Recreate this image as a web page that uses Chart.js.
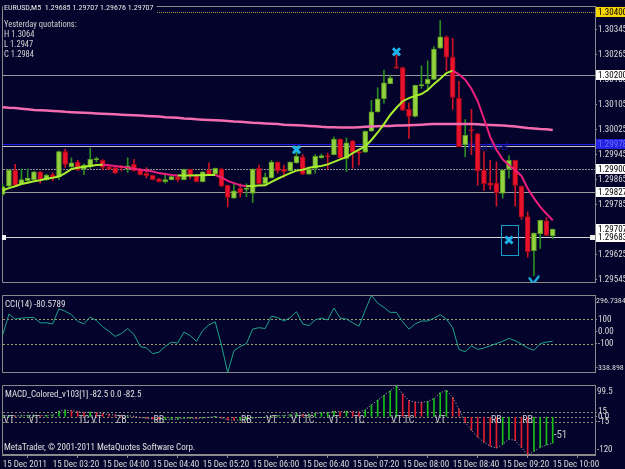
<!DOCTYPE html>
<html>
<head>
<meta charset="utf-8">
<title>EURUSD,M5</title>
<script src="https://cdn.jsdelivr.net/npm/chart.js@4.4.1/dist/chart.umd.min.js"></script>
<style>
html,body{margin:0;padding:0;background:#04032b;overflow:hidden;}
#wrap{position:relative;width:625px;height:469px;background:#04032b;}
canvas{position:absolute;left:0;display:block;}
</style>
</head>
<body>
<div id="wrap">
<canvas id="cMain" width="625" height="289" style="top:0px"></canvas>
<canvas id="cCci" width="625" height="90" style="top:289px"></canvas>
<canvas id="cMacd" width="625" height="90" style="top:379px"></canvas>
</div>
<script>
// ================= DATA =================
const times = ("02:40 02:45 02:50 02:55 " +
 "03:00 03:05 03:10 03:15 03:20 03:25 03:30 03:35 03:40 03:45 03:50 03:55 " +
 "04:00 04:05 04:10 04:15 04:20 04:25 04:30 04:35 04:40 04:45 04:50 04:55 " +
 "05:00 05:05 05:10 05:15 05:20 05:25 05:30 05:35 05:40 05:45 05:50 05:55 " +
 "06:00 06:05 06:10 06:15 06:20 06:25 06:30 06:35 06:40 06:45 06:50 06:55 " +
 "07:00 07:05 07:10 07:15 07:20 07:25 07:30 07:35 07:40 07:45 07:50 07:55 " +
 "08:00 08:05 08:10 08:15 08:20 08:25 08:30 08:35 08:40 08:45 08:50 08:55 " +
 "09:00 09:05 09:10 09:15 09:20 09:25 09:30 09:35 09:40 09:45 09:50 09:55 " +
 "10:00").split(" ");

const opens = [1.29818,1.29844,1.29895,1.29852,1.29862,1.29865,1.29890,1.29865,1.29881,1.29875,
1.29955,1.29906,1.29921,1.29899,1.29907,1.29929,1.29927,1.29906,1.29904,1.29904,
1.29899,1.29914,1.29899,1.29885,1.29879,1.29868,1.29859,1.29865,1.29875,1.29865,
1.29898,1.29878,1.29859,1.29896,1.29883,1.29899,1.29847,1.29806,1.29837,1.29834,
1.29821,1.29901,1.29852,1.29871,1.29921,1.29899,1.29893,1.29919,1.29938,1.29883,
1.29901,1.29935,1.29940,1.29945,1.29995,1.29933,1.29989,1.29955,1.29953,1.30020,
1.30082,1.30124,1.30172,1.30226,1.30224,1.30090,1.30067,1.30166,1.30172,1.30186,
1.30286,1.30322,1.30257,1.30126,1.29976,1.30023,1.30012,1.29896,1.29855,1.29854,
1.29821,1.29899,1.29927,1.29844,1.29747,1.29638,1.29692,1.29733,1.29685];

const highs = [1.29852,1.29897,1.29914,1.29899,1.29899,1.29892,1.29891,1.29882,1.29888,1.29957,
1.29963,1.29935,1.29927,1.29916,1.29966,1.29937,1.29929,1.29912,1.29906,1.29911,
1.29935,1.29930,1.29901,1.29904,1.29880,1.29869,1.29880,1.29876,1.29876,1.29899,
1.29899,1.29879,1.29891,1.29919,1.29902,1.29902,1.29848,1.29852,1.29852,1.29852,
1.29900,1.29912,1.29886,1.29927,1.29922,1.29912,1.29922,1.29970,1.29945,1.29900,
1.29945,1.29947,1.29950,1.30002,1.29996,1.29999,1.29990,1.29958,1.30021,1.30119,
1.30159,1.30216,1.30198,1.30273,1.30225,1.30110,1.30168,1.30229,1.30245,1.30291,
1.30374,1.30325,1.30317,1.30180,1.30057,1.30090,1.30013,1.29955,1.29927,1.29922,
1.29897,1.29942,1.29928,1.29845,1.29762,1.29695,1.29736,1.29744,1.29707];

const lows = [1.29815,1.29843,1.29846,1.29851,1.29858,1.29864,1.29854,1.29863,1.29862,1.29865,
1.29904,1.29905,1.29894,1.29881,1.29901,1.29922,1.29896,1.29897,1.29885,1.29893,
1.29888,1.29892,1.29880,1.29871,1.29864,1.29858,1.29854,1.29864,1.29859,1.29864,
1.29868,1.29858,1.29858,1.29879,1.29882,1.29843,1.29778,1.29805,1.29809,1.29811,
1.29792,1.29851,1.29851,1.29870,1.29886,1.29873,1.29892,1.29918,1.29882,1.29882,
1.29886,1.29934,1.29899,1.29944,1.29934,1.29891,1.29902,1.29912,1.29952,1.30019,
1.30081,1.30110,1.30171,1.30221,1.30086,1.29997,1.30066,1.30157,1.30149,1.30185,
1.30285,1.30214,1.30090,1.29970,1.29938,1.29945,1.29847,1.29831,1.29834,1.29780,
1.29806,1.29870,1.29780,1.29738,1.29617,1.29558,1.29645,1.29686,1.29676];

const closes = [1.29843,1.29896,1.29847,1.29865,1.29870,1.29890,1.29865,1.29880,1.29873,1.29955,
1.29914,1.29919,1.29896,1.29912,1.29930,1.29930,1.29904,1.29898,1.29886,1.29903,
1.29909,1.29893,1.29881,1.29878,1.29865,1.29859,1.29865,1.29875,1.29865,1.29898,
1.29877,1.29859,1.29890,1.29880,1.29901,1.29844,1.29808,1.29829,1.29823,1.29837,
1.29899,1.29852,1.29873,1.29921,1.29893,1.29891,1.29921,1.29940,1.29883,1.29899,
1.29940,1.29942,1.29939,1.29995,1.29935,1.29983,1.29952,1.29950,1.30020,1.30082,
1.30124,1.30175,1.30191,1.30222,1.30087,1.30067,1.30167,1.30167,1.30186,1.30283,
1.30322,1.30257,1.30128,1.29971,1.30007,1.30022,1.29893,1.29852,1.29847,1.29823,
1.29896,1.29927,1.29847,1.29746,1.29635,1.29694,1.29735,1.29687,1.29707];

const fastMA = [1.29831,1.29838,1.29844,1.29851,1.29855,1.29860,1.29863,1.29868,1.29871,1.29875,
1.29886,1.29899,1.29903,1.29906,1.29909,1.29912,1.29913,1.29911,1.29909,1.29906,
1.29904,1.29900,1.29897,1.29894,1.29891,1.29886,1.29883,1.29880,1.29878,1.29878,
1.29878,1.29879,1.29879,1.29880,1.29880,1.29872,1.29861,1.29854,1.29847,1.29844,
1.29845,1.29846,1.29847,1.29858,1.29868,1.29877,1.29886,1.29894,1.29897,1.29903,
1.29906,1.29909,1.29914,1.29922,1.29930,1.29937,1.29950,1.29961,1.29971,1.29992,
1.30016,1.30043,1.30072,1.30095,1.30116,1.30126,1.30133,1.30139,1.30152,1.30171,
1.30188,1.30206,1.30214,1.30202,1.30185,1.30156,1.30116,1.30060,1.30002,1.29961,
1.29930,1.29911,1.29896,1.29877,1.29837,1.29806,1.29778,1.29756,1.29735];

const slowMA = [1.30097,1.30095,1.30094,1.30092,1.30090,1.30088,1.30087,1.30086,1.30085,1.30084,
1.30082,1.30081,1.30080,1.30079,1.30078,1.30077,1.30076,1.30075,1.30074,1.30073,
1.30072,1.30071,1.30070,1.30069,1.30068,1.30067,1.30065,1.30064,1.30063,1.30061,
1.30060,1.30058,1.30057,1.30056,1.30055,1.30054,1.30053,1.30051,1.30050,1.30049,
1.30047,1.30046,1.30045,1.30044,1.30043,1.30041,1.30040,1.30039,1.30038,1.30037,
1.30036,1.30034,1.30033,1.30033,1.30032,1.30032,1.30032,1.30033,1.30034,1.30035,
1.30036,1.30037,1.30037,1.30038,1.30038,1.30039,1.30040,1.30041,1.30042,1.30043,
1.30043,1.30043,1.30043,1.30043,1.30043,1.30043,1.30042,1.30041,1.30040,1.30039,
1.30038,1.30037,1.30035,1.30033,1.30030,1.30029,1.30027,1.30026,1.30024];

const cci = [-28,143,102,109,114,114,71,71,62,186,
167,138,83,62,119,90,38,2,-41,-17,
24,-24,-124,-136,-183,-171,-124,-88,-95,-5,
-34,-81,7,55,79,-112,-338.898,-159,-124,-100,
19,31,24,126,114,86,114,162,62,48,
95,109,95,193,109,102,71,43,174,296.7384,
233,198,157,157,79,19,62,86,86,109,
138,102,31,-148,-167,-119,-148,-136,-119,-100,
-81,-57,-76,-105,-136,-155,-100,-88,-80.5789];

const macd = [4,5,3,4,5,6,4,5,6,18,
22,20,17,14,15,13,11,8,6,4,
4,2,-2,-4,-6,-8,-8,-7,-7,-4,
-4,-5,-3,-1,1,-3,-9,-10,-10,-9,
-3,-2,-1,3,4,4,7,11,8,8,
11,13,13,18,16,18,17,15,22,38,
53,68,82,99.5,72,52,47,46,49,58,
76,84,62,25,-18,-42,-64,-80,-92,-98,
-86,-70,-74,-96,-120,-108,-96,-88,-82.5];

// axis ticks
const priceTicks = [1.29545,1.29625,1.29705,1.29785,1.29865,1.29945,1.30025,1.30105,1.30185,1.30265,1.30345];
const cciTicks = [100, 0, -100];
const cciTickLabels = ["100", "0.00", "-100"];
const cciRange = [-338.898, 296.7384];
const macdTicks = [15, 0, -15];
const macdTickLabels = ["15", "0.0", "-15"];
const macdRange = [-120, 99.5];
const timeTickTimes = ["02:40","03:20","04:00","04:40","05:20","06:00","06:40","07:20","08:00","08:40","09:20","10:00"];
const timeTickLabels = ["15 Dec 2011","15 Dec 03:20","15 Dec 04:00","15 Dec 04:40","15 Dec 05:20","15 Dec 06:00",
                        "15 Dec 06:40","15 Dec 07:20","15 Dec 08:00","15 Dec 08:40","15 Dec 09:20","15 Dec 10:00"];

// horizontal levels on the price panel
const levelPrices = [1.30400, 1.30200, 1.29978, 1.29973, 1.29900, 1.29827, 1.29683];
// price-axis boxed labels
const boxPrices = [1.30400, 1.30200, 1.29978, 1.29900, 1.29827, 1.29707, 1.29683];
const boxLabels = ["1.30400","1.30200","1.29978","1.29900","1.29827","1.29707","1.29683"];

// signal markers
const crossTimes = ["06:35","07:55","09:25"];
const crossPrices = [1.29961, 1.30274, 1.29672];
const checkTimes = ["09:45"];
const checkPrices = [1.29543];
const boxRange = [1.29623, 1.29719];

// texts
const headerText = "EURUSD,M5  1.29685 1.29707 1.29676 1.29707";
const infoLines = ["Yesterday quotations:", "H 1.3064", "L 1.2947", "C 1.2984"];
const pivotText = "Pivot level";
const cciTitle = "CCI(14) -80.5789";
const macdTitle = "MACD_Colored_v103[1] -82.5 0.0 -82.5";
const copyright = "MetaTrader, \u00A9 2001-2011 MetaQuotes Software Corp.";
const macdTagTimes = ["02:45","03:05","03:45","03:55","04:15","04:45","05:55","06:15","06:35","06:45","07:05","07:25","07:55","08:05","08:30","09:15","09:40"];
const macdTags = ["VT","VT","TC","VT","ZB","RB","RB","VT","VT","TC","VT","TC","VT","TC","VT","RB","RB"];
const macdNote = "-51";

// ================= STYLE =================
const FONT = '"Roboto Condensed","Liberation Sans",Arial,sans-serif';
const BG = '#04032b', FRAME = '#8a8a8a', TXT = '#dcdcdc';
const BULL = '#93d13e', BULL_EDGE = '#5a9a22', BEAR = '#e8122c', BEAR_EDGE = '#a00a1a';
const BULL_WICK = '#2a8e22', BEAR_WICK = '#cc1424';
const MA_UP = '#a8ee2c', MA_DN = '#ee1f7c', SLOW = '#f46cb0', CYAN = '#1db4ea';
const levelColors = ['#a89a38', '#9a9a9a', '#1c1cf0', '#c8c8c8', '#8e8e8e', '#9a9a9a', '#d4d4d4'];
const levelDash = [[1,1], [], [], [], [2,1], [], []];
const boxFill = ['#f8d400','#ffffff','#2424e0','#ffffff','#ffffff','#ffffff','#ffffff'];
const boxInk = ['#000000','#000000','#6a6aff','#000000','#000000','#000000','#000000'];

Chart.defaults.font.family = FONT;
Chart.defaults.font.size = 9;
Chart.defaults.color = TXT;
Chart.defaults.animation = false;
Chart.defaults.events = [];
Chart.defaults.plugins.legend.display = false;
Chart.defaults.plugins.tooltip.enabled = false;

const X_MIN = -0.112, X_MAX = 94.768;
const xOf = t => times.indexOf(t);
const idx = times.map((t, i) => i);
const bull = idx.map(i => closes[i] >= opens[i]);

function hiddenX() {
  return {type: 'linear', min: X_MIN, max: X_MAX, offset: false, display: false};
}
function rightY(min, max, tickVals, labelFn) {
  return {
    type: 'linear', position: 'right', min: min, max: max,
    afterFit(s) { s.width = 30; },
    afterBuildTicks(s) { s.ticks = tickVals.map(v => ({value: v})); },
    ticks: {color: TXT, font: {size: 9}, padding: 1, autoSkip: false, callback: labelFn},
    grid: {display: true, drawOnChartArea: false, drawTicks: true, tickLength: 2, color: FRAME},
    border: {display: true, color: FRAME, width: 1}
  };
}
function frame(ctx, a) {
  ctx.save();
  ctx.strokeStyle = FRAME; ctx.lineWidth = 1;
  const l = Math.round(a.left) + 0.5, t = Math.round(a.top) + 0.5, b = Math.round(a.bottom) - 0.5, r = Math.round(a.right) + 0.5;
  ctx.beginPath();
  ctx.moveTo(r, t); ctx.lineTo(l, t); ctx.lineTo(l, b); ctx.lineTo(r, b);
  ctx.stroke();
  ctx.restore();
}

// check-mark point style
const chk = document.createElement('canvas');
chk.width = 12; chk.height = 10;
(function(){
  const g = chk.getContext('2d');
  g.strokeStyle = CYAN; g.lineWidth = 2.4; g.lineCap = 'round';
  g.beginPath(); g.moveTo(1.5, 3); g.quadraticCurveTo(3.5, 5, 5, 8.5); g.lineTo(10.5, 1.5); g.stroke();
})();

// ================= MAIN PRICE PANEL =================
const mainDecor = {
  id: 'mainDecor',
  beforeDatasetsDraw(chart) {
    const {ctx, chartArea: a, scales: {x, y}} = chart;
    frame(ctx, a);
    ctx.save();
    levelPrices.forEach((p, k) => {
      const py = Math.round(y.getPixelForValue(p)) + 0.5;
      ctx.strokeStyle = levelColors[k]; ctx.lineWidth = 1; ctx.setLineDash(levelDash[k]);
      ctx.beginPath(); ctx.moveTo(a.left + 1, py); ctx.lineTo(a.right, py); ctx.stroke();
    });
    ctx.setLineDash([]);
    // pivot text
    ctx.font = '10px ' + FONT; ctx.fillStyle = '#1a1aa8'; ctx.textBaseline = 'middle'; ctx.textAlign = 'left';
    ctx.fillText(pivotText, x.getPixelForValue(74.4), y.getPixelForValue(1.29967));
    // signal frame
    const x0 = Math.round(x.getPixelForValue(xOf("09:15") + 0.8)) + 0.5;
    const x1 = Math.round(x.getPixelForValue(xOf("09:30") + 0.5)) + 0.5;
    const y0 = Math.round(y.getPixelForValue(boxRange[1])) + 0.5;
    const y1 = Math.round(y.getPixelForValue(boxRange[0])) + 0.5;
    ctx.strokeStyle = '#1a9cc8'; ctx.lineWidth = 1;
    ctx.strokeRect(x0, y0, x1 - x0, y1 - y0);
    ctx.restore();
  },
  afterDraw(chart) {
    const {ctx, chartArea: a, scales: {y}} = chart;
    ctx.save();
    // white end squares on the 1.29683 line
    const wy = Math.round(y.getPixelForValue(1.29683));
    ctx.fillStyle = '#f0f0f0';
    ctx.fillRect(a.left, wy - 2, 4, 5);
    ctx.fillRect(a.right - 5, wy - 2, 5, 5);
    // boxed axis labels
    ctx.font = '9px ' + FONT; ctx.textBaseline = 'middle'; ctx.textAlign = 'left';
    boxPrices.forEach((p, k) => {
      const py = Math.round(y.getPixelForValue(p));
      ctx.fillStyle = boxFill[k];
      ctx.fillRect(a.right + 1, py - 5, 30, 10);
      ctx.fillStyle = boxInk[k];
      ctx.fillText(boxLabels[k], a.right + 3, py + 0.5);
    });
    // header and info
    ctx.font = '8px ' + FONT;
    const w = ctx.measureText(headerText).width;
    ctx.fillStyle = BG; ctx.fillRect(a.left + 1, 3, w + 4, 10);
    ctx.fillStyle = '#e8e8e8';
    ctx.fillText(headerText, a.left + 2, 8);
    ctx.font = '8.5px ' + FONT;
    ctx.fillStyle = '#d0d0d0';
    infoLines.forEach((s, k) => ctx.fillText(s, a.left + 2, 25 + k * 9.8));
    ctx.restore();
  }
};

new Chart(document.getElementById('cMain'), {
  type: 'bar',
  data: {
    datasets: [
      {type: 'bar', label: 'wick', order: 5, grouped: false, barThickness: 1, borderWidth: 0,
       data: idx.map(i => ({x: i, y: [lows[i], highs[i]]})),
       backgroundColor: bull.map(b => b ? BULL_WICK : BEAR_WICK)},
      {type: 'bar', label: 'body', order: 4, grouped: false, barThickness: 5, minBarLength: 1,
       borderWidth: 1, borderSkipped: false,
       data: idx.map(i => ({x: i, y: [opens[i], closes[i]]})),
       backgroundColor: bull.map(b => b ? BULL : BEAR),
       borderColor: bull.map(b => b ? BULL_EDGE : BEAR_EDGE)},
      {type: 'line', label: 'slow', order: 3, borderColor: SLOW, borderWidth: 2.5, pointRadius: 0,
       data: idx.map(i => ({x: i, y: slowMA[i]}))},
      {type: 'line', label: 'fast', order: 2, borderColor: MA_UP, borderWidth: 2, pointRadius: 0,
       segment: {borderColor: c => (c.p1.parsed.y >= c.p0.parsed.y ? MA_UP : MA_DN)},
       data: idx.map(i => ({x: i, y: fastMA[i]}))},
      {type: 'line', label: 'cross', order: 1, showLine: false, pointStyle: 'crossRot', pointRadius: 5,
       borderColor: CYAN, borderWidth: 3,
       data: crossTimes.map((t, k) => ({x: xOf(t), y: crossPrices[k]}))},
      {type: 'line', label: 'check', order: 1, showLine: false, pointStyle: chk, pointRadius: 5,
       data: checkTimes.map((t, k) => ({x: xOf(t), y: checkPrices[k]}))}
    ]
  },
  options: {
    responsive: false, devicePixelRatio: 1,
    layout: {autoPadding: false, padding: {left: 2, right: 0, top: 2, bottom: 2}},
    scales: {
      x: hiddenX(),
      y: rightY(1.295357, 1.304194, priceTicks, v => v.toFixed(5))
    }
  },
  plugins: [mainDecor]
});

// ================= CCI PANEL =================
const cciDecor = {
  id: 'cciDecor',
  beforeDatasetsDraw(chart) {
    const {ctx, chartArea: a, scales: {y}} = chart;
    frame(ctx, a);
    ctx.save();
    ctx.strokeStyle = '#a09c6c'; ctx.lineWidth = 1; ctx.setLineDash([2, 2]);
    [100, -100].forEach(v => {
      const py = Math.round(y.getPixelForValue(v)) + 0.5;
      ctx.beginPath(); ctx.moveTo(a.left + 1, py); ctx.lineTo(a.right, py); ctx.stroke();
    });
    ctx.restore();
  },
  afterDraw(chart) {
    const {ctx, chartArea: a} = chart;
    ctx.save();
    ctx.font = '8px ' + FONT; ctx.fillStyle = TXT; ctx.textBaseline = 'middle'; ctx.textAlign = 'left';
    ctx.fillText(String(cciRange[1]), a.right + 1, a.top + 6);
    ctx.fillText(String(cciRange[0]), a.right + 1, a.bottom - 5);
    ctx.font = '9px ' + FONT; ctx.fillStyle = '#e0e0e0';
    ctx.fillText(cciTitle, a.left + 3, a.top + 9);
    ctx.restore();
  }
};

new Chart(document.getElementById('cCci'), {
  type: 'line',
  data: {datasets: [{borderColor: '#1fa48a', borderWidth: 1, pointRadius: 0,
                     data: idx.map(i => ({x: i, y: cci[i]}))}]},
  options: {
    responsive: false, devicePixelRatio: 1,
    layout: {autoPadding: false, padding: {left: 2, right: 0, top: 0.5, bottom: 0.6}},
    scales: {
      x: hiddenX(),
      y: rightY(cciRange[0], cciRange[1], cciTicks, (v, i) => cciTickLabels[i])
    }
  },
  plugins: [cciDecor]
});

// ================= MACD PANEL =================
const macdDecor = {
  id: 'macdDecor',
  beforeDatasetsDraw(chart) {
    const {ctx, chartArea: a, scales: {y}} = chart;
    frame(ctx, a);
    ctx.save();
    ctx.strokeStyle = '#8c8a6a'; ctx.lineWidth = 1; ctx.setLineDash([2, 2]);
    macdTicks.forEach(v => {
      const py = Math.round(y.getPixelForValue(v)) + 0.5;
      ctx.beginPath(); ctx.moveTo(a.left + 1, py); ctx.lineTo(a.right, py); ctx.stroke();
    });
    ctx.restore();
  },
  afterDraw(chart) {
    const {ctx, chartArea: a, scales: {x, y}} = chart;
    ctx.save();
    ctx.textBaseline = 'middle';
    ctx.font = '10px ' + FONT; ctx.fillStyle = '#c4c4c4'; ctx.textAlign = 'center';
    macdTagTimes.forEach((t, k) => ctx.fillText(macdTags[k], x.getPixelForValue(xOf(t)), y.getPixelForValue(-12)));
    ctx.textAlign = 'left';
    ctx.font = '11px ' + FONT;
    ctx.fillText(macdNote, x.getPixelForValue(xOf("10:00")) + 1, y.getPixelForValue(-57));
    ctx.font = '9px ' + FONT; ctx.fillStyle = TXT;
    ctx.fillText(String(macdRange[1]), a.right + 2, a.top + 6);
    ctx.fillText(String(macdRange[0]), a.right + 2, a.bottom - 5);
    ctx.fillStyle = '#e0e0e0';
    ctx.fillText(macdTitle, a.left + 3, a.top + 9);
    ctx.fillText(copyright, a.left + 2, a.bottom - 7);
    ctx.restore();
  }
};

new Chart(document.getElementById('cMacd'), {
  type: 'bar',
  data: {
    datasets: [
      {type: 'bar', order: 2, grouped: false, barThickness: 1, borderWidth: 0,
       data: idx.map(i => ({x: i, y: macd[i]})),
       backgroundColor: idx.map(i => (i > 0 && macd[i] < macd[i - 1]) ? '#e01c2c' : '#16c016')},
      {type: 'line', order: 1, borderColor: '#bcbcbc', borderWidth: 1, borderDash: [1, 2], pointRadius: 0,
       data: idx.map(i => ({x: i, y: macd[i]}))}
    ]
  },
  options: {
    responsive: false, devicePixelRatio: 1,
    layout: {autoPadding: false, padding: {left: 2, right: 0, top: 2, bottom: 0}},
    scales: {
      x: {
        type: 'linear', min: X_MIN, max: X_MAX, offset: false, position: 'bottom',
        afterBuildTicks(s) { s.ticks = timeTickTimes.map(t => ({value: xOf(t)})); },
        afterFit(s) { s.height = 14; },
        ticks: {autoSkip: false, maxRotation: 0, minRotation: 0, align: 'start', padding: 1,
                color: TXT, font: {size: 9}, callback: (v, i) => timeTickLabels[i]},
        grid: {display: true, drawOnChartArea: false, drawTicks: true, tickLength: 3, color: FRAME},
        border: {display: true, color: FRAME}
      },
      y: rightY(macdRange[0], macdRange[1], macdTicks, (v, i) => macdTickLabels[i])
    }
  },
  plugins: [macdDecor]
});
</script>
</body>
</html>
